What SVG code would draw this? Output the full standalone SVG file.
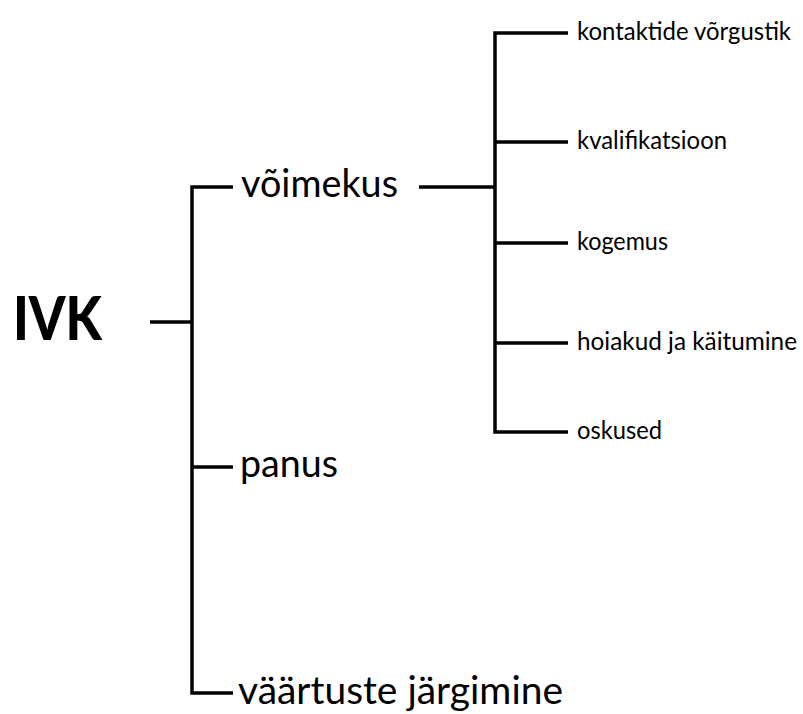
<svg xmlns="http://www.w3.org/2000/svg" width="803" height="714" viewBox="0 0 803 714">
<style>
.c{fill:none;stroke:#000;stroke-width:3.5;stroke-linecap:butt;stroke-linejoin:miter}
.m{font-family:Lato,"Open Sans","Liberation Sans",sans-serif;font-size:38px;fill:#000}
.s{font-family:Lato,"Open Sans","Liberation Sans",sans-serif;font-size:25px;fill:#000}
.r{font-family:Lato,"Open Sans","Liberation Sans",sans-serif;font-size:61px;font-weight:900;fill:#000}
</style>
<rect width="803" height="714" fill="#fff"/>
<g id="connectors">
<path class="c" d="M150 322H192"/>
<path class="c" d="M233 187H192V693H233"/>
<path class="c" d="M192 467H233"/>
<path class="c" d="M419 187H495"/>
<path class="c" d="M568 33H495V432H568"/>
<path class="c" d="M495 142H568"/>
<path class="c" d="M495 243H568"/>
<path class="c" d="M495 343H568"/>
</g>
<g id="ivk"><text class="r" x="13" y="340" textLength="89" lengthAdjust="spacingAndGlyphs">IVK</text></g>
<g id="voimekus"><text class="m" x="241" y="197" textLength="157" lengthAdjust="spacingAndGlyphs">võimekus</text></g>
<g id="panus"><text class="m" x="240" y="477" textLength="98" lengthAdjust="spacingAndGlyphs">panus</text></g>
<g id="vaartuste"><text class="m" x="238" y="704" textLength="325" lengthAdjust="spacingAndGlyphs">väärtuste järgimine</text></g>
<g id="kontaktide"><text class="s" x="577" y="40" textLength="214" lengthAdjust="spacingAndGlyphs">kontaktide võrgustik</text></g>
<g id="kvalifikatsioon"><text class="s" x="577" y="149" textLength="150" lengthAdjust="spacingAndGlyphs">kvalifikatsioon</text></g>
<g id="kogemus"><text class="s" x="577" y="250" textLength="91" lengthAdjust="spacingAndGlyphs">kogemus</text></g>
<g id="hoiakud"><text class="s" x="577" y="350" textLength="220" lengthAdjust="spacingAndGlyphs">hoiakud ja käitumine</text></g>
<g id="oskused"><text class="s" x="577" y="439" textLength="85" lengthAdjust="spacingAndGlyphs">oskused</text></g>
</svg>
